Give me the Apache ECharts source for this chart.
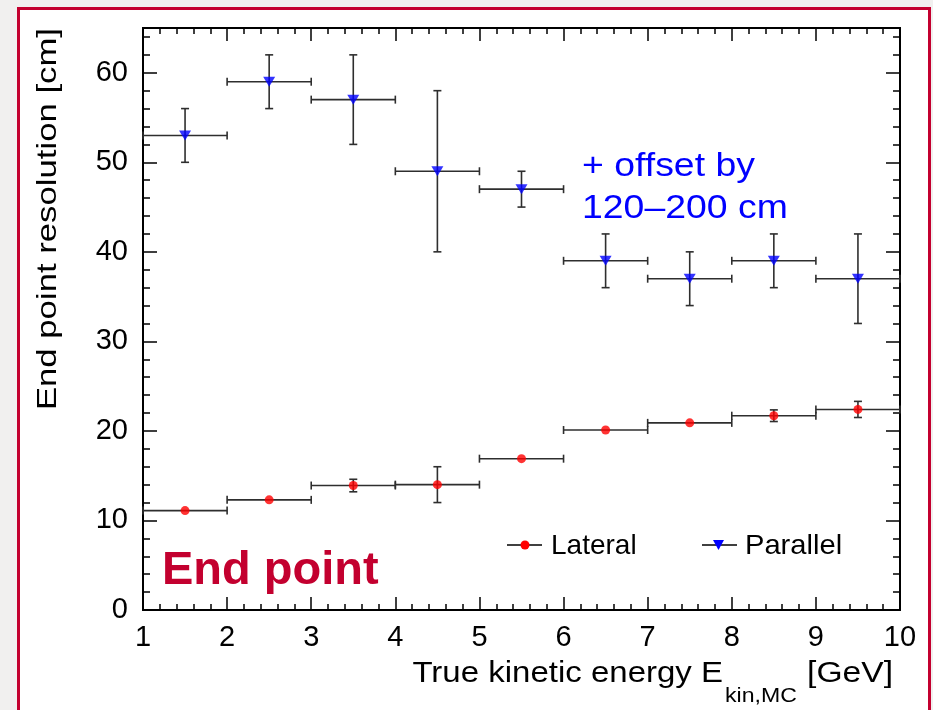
<!DOCTYPE html>
<html>
<head>
<meta charset="utf-8">
<script src="https://cdn.jsdelivr.net/npm/echarts@6/dist/echarts.min.js"></script>
<style>
  html, body { margin: 0; padding: 0; background: #f1f0ef; }
  #chart { width: 933px; height: 710px; }
</style>
</head>
<body>
<div id="chart"></div>
<script>
// Bin centres of true kinetic energy [GeV]; each bin is 1 GeV wide
const energy = [1.5, 2.5, 3.5, 4.5, 5.5, 6.5, 7.5, 8.5, 9.5];
const binHalfWidth = 0.5;

// Lateral end point resolution [cm] and its uncertainty
const lateral    = [11.1, 12.3, 13.9, 14.0, 16.9, 20.1, 20.9, 21.7, 22.4];
const lateralErr = [0.3, 0.3, 0.7, 2.0, 0.3, 0.3, 0.6, 0.65, 0.9];

// Parallel end point resolution [cm] (shown with an offset) and its uncertainty
const parallel    = [53, 59, 57, 49, 47, 39, 37, 39, 37];
const parallelErr = [3, 3, 5, 9, 2, 3, 3, 3, 5];

// Axis ranges and tick labels
const xRange = [1, 10];
const yRange = [0, 65];
const xTickLabels = ['1', '2', '3', '4', '5', '6', '7', '8', '9', '10'];
const yTickLabels = ['0', '10', '20', '30', '40', '50', '60'];

const FONT = '"Liberation Sans", Arial, Helvetica, sans-serif';
const FRAME = '#000';
const ERR_COLOR = '#2e2e2e';
const CRIMSON = '#c3002f';

const chart = echarts.init(document.getElementById('chart'), null, { renderer: 'canvas' });

function errorSeries(name, values, errs, markerRadius) {
  return {
    name: name + ' errors',
    type: 'custom',
    xAxisIndex: 0,
    yAxisIndex: 0,
    z: 2,
    silent: true,
    data: energy.map((x, i) => [x, values[i], errs[i]]),
    renderItem: function (params, api) {
      const x = api.value(0), y = api.value(1), e = api.value(2);
      const l = api.coord([x - binHalfWidth, y]);
      const r = api.coord([x + binHalfWidth, y]);
      const t = api.coord([x, y + e]);
      const b = api.coord([x, y - e]);
      const style = { stroke: ERR_COLOR, lineWidth: 1.6, fill: null };
      const cap = 4;
      const children = [
        { type: 'line', shape: { x1: l[0], y1: l[1], x2: r[0], y2: r[1] }, style: style },
        { type: 'line', shape: { x1: l[0], y1: l[1] - cap, x2: l[0], y2: l[1] + cap }, style: style },
        { type: 'line', shape: { x1: r[0], y1: r[1] - cap, x2: r[0], y2: r[1] + cap }, style: style }
      ];
      if ((b[1] - t[1]) / 2 > markerRadius + 1) {
        children.push(
          { type: 'line', shape: { x1: t[0], y1: t[1], x2: b[0], y2: b[1] }, style: style },
          { type: 'line', shape: { x1: t[0] - cap, y1: t[1], x2: t[0] + cap, y2: t[1] }, style: style },
          { type: 'line', shape: { x1: b[0] - cap, y1: b[1], x2: b[0] + cap, y2: b[1] }, style: style }
        );
      }
      return { type: 'group', children: children };
    }
  };
}

const labelStyle = { color: '#000', fontFamily: FONT, fontSize: 29 };

function xAxisDef(position, showLabels) {
  return {
    type: 'value',
    position: position,
    min: xRange[0],
    max: xRange[1],
    interval: 1,
    axisLine: { show: true, onZero: false, lineStyle: { color: FRAME, width: 2 } },
    axisTick: { show: true, inside: true, length: 13, lineStyle: { color: FRAME, width: 1.5 } },
    minorTick: { show: true, splitNumber: 5, length: 6, lineStyle: { color: FRAME, width: 1.5 } },
    splitLine: { show: false },
    axisLabel: Object.assign({
      show: showLabels,
      margin: 13,
      formatter: v => xTickLabels[Math.round(v - xRange[0])] || ''
    }, labelStyle)
  };
}

function yAxisDef(position, interval, tickLen, showLabels) {
  return {
    type: 'value',
    position: position,
    offset: 0,
    min: yRange[0],
    max: yRange[1],
    interval: interval,
    axisLine: { show: true, onZero: false, lineStyle: { color: FRAME, width: 2 } },
    axisTick: { show: true, inside: true, length: tickLen, lineStyle: { color: FRAME, width: 1.5 } },
    minorTick: { show: false },
    splitLine: { show: false },
    axisLabel: Object.assign({
      show: showLabels,
      margin: 15,
      formatter: v => (v % 10 === 0 ? yTickLabels[v / 10] || '' : '')
    }, labelStyle)
  };
}

// text helper: y given as baseline, converted to the middle of the em box
function label(text, x, baseline, size, opts) {
  opts = opts || {};
  return {
    type: 'text',
    x: x,
    y: baseline - 0.3 * size,
    scaleX: opts.scaleX || 1,
    style: {
      text: text,
      fill: opts.color || '#000',
      font: (opts.weight ? opts.weight + ' ' : '') + size + 'px ' + FONT,
      align: opts.align || 'left',
      verticalAlign: 'middle'
    }
  };
}

const option = {
  backgroundColor: '#f1f0ef',
  animation: false,
  grid: { left: 143, top: 28, right: 33, bottom: 100, containLabel: false, show: false },
  xAxis: [xAxisDef('bottom', true), xAxisDef('top', false)],
  yAxis: [
    yAxisDef('left', 10, 14, true),
    yAxisDef('left', 2, 7, false),
    yAxisDef('right', 10, 14, false),
    yAxisDef('right', 2, 7, false)
  ],
  series: [
    errorSeries('Lateral', lateral, lateralErr, 4.5),
    errorSeries('Parallel', parallel, parallelErr, 5),
    {
      name: 'Lateral',
      type: 'scatter',
      xAxisIndex: 0,
      yAxisIndex: 0,
      z: 3,
      symbol: 'circle',
      symbolSize: 9,
      itemStyle: { color: '#ff0000' },
      data: energy.map((x, i) => [x, lateral[i]])
    },
    {
      name: 'Parallel',
      type: 'scatter',
      xAxisIndex: 0,
      yAxisIndex: 0,
      z: 3,
      symbol: 'triangle',
      symbolRotate: 180,
      symbolSize: [12, 10],
      itemStyle: { color: '#0000ff' },
      data: energy.map((x, i) => [x, parallel[i]])
    }
  ],
  graphic: [
    // framed white panel
    {
      type: 'rect', z: -10, silent: true,
      shape: { x: 18.5, y: 8.5, width: 911, height: 730 },
      style: { fill: '#ffffff', stroke: CRIMSON, lineWidth: 3 }
    },
    // y-axis title, reading upwards and ending at the top of the frame
    {
      type: 'text', x: 48, y: 28, rotation: Math.PI / 2, scaleX: 1.24,
      style: { text: 'End point resolution [cm]', fill: '#000', font: '28px ' + FONT, align: 'right', verticalAlign: 'middle' }
    },
    // x-axis title with subscript
    label('True kinetic energy E', 723, 683, 30, { align: 'right', scaleX: 1.1 }),
    label('kin,MC', 725, 703, 21, { scaleX: 1.1 }),
    label('[GeV]', 893, 683, 30, { align: 'right', scaleX: 1.12 }),
    // offset note
    label('+ offset by', 582, 177, 34, { color: '#0000ff', scaleX: 1.1 }),
    label('120\u2013200 cm', 582, 219, 34, { color: '#0000ff', scaleX: 1.1 }),
    // panel label
    label('End point', 162, 585, 47, { color: CRIMSON, weight: 'bold' }),
    // legend: Lateral
    {
      type: 'line', shape: { x1: 507, y1: 545, x2: 542, y2: 545 },
      style: { stroke: '#000', lineWidth: 1.5 }
    },
    {
      type: 'circle', shape: { cx: 525, cy: 545, r: 4.5 },
      style: { fill: '#ff0000' }
    },
    label('Lateral', 551, 555, 28),
    // legend: Parallel
    {
      type: 'line', shape: { x1: 702, y1: 545, x2: 737, y2: 545 },
      style: { stroke: '#000', lineWidth: 1.5 }
    },
    {
      type: 'polygon', shape: { points: [[713, 540], [724, 540], [718.5, 550]] },
      style: { fill: '#0000ff' }
    },
    label('Parallel', 745, 555, 28, { scaleX: 1.04 })
  ]
};

chart.setOption(option);
</script>
</body>
</html>
